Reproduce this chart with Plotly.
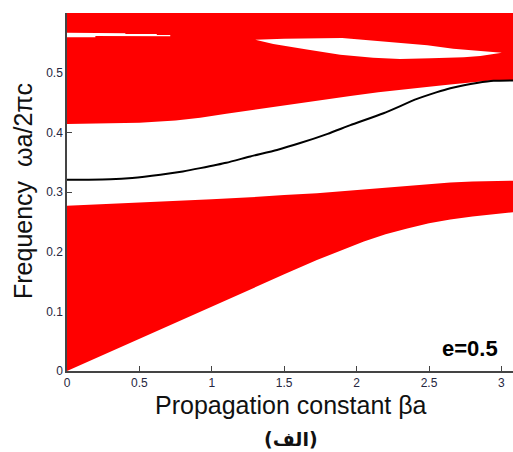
import plotly.graph_objects as go

# ---- data ----
# lower (red) band
beta_lb = [0, 0.5, 1.0, 1.267, 1.5, 1.726, 1.9, 2.05, 2.2, 2.35, 2.5, 2.647, 2.8, 2.95, 3.08]
lb_low = [0, 0.054, 0.108, 0.138, 0.162, 0.186, 0.203, 0.217, 0.229, 0.239, 0.2475, 0.254, 0.259, 0.263, 0.266]
lb_up = [0.277, 0.282, 0.288, 0.291, 0.295, 0.298, 0.302, 0.305, 0.308, 0.311, 0.313, 0.316, 0.3175, 0.3185, 0.319]

# upper (red) band lower edge
beta_ub = [0, 0.3, 0.5, 0.75, 0.92, 1.1, 1.266, 1.45, 1.61, 1.8, 1.957, 2.15, 2.30, 2.5, 2.647, 2.76, 2.86, 2.945, 3.08]
ub_low = [0.414, 0.4145, 0.416, 0.420, 0.4245, 0.431, 0.437, 0.443, 0.449, 0.4555, 0.461, 0.467, 0.4715, 0.4765, 0.480, 0.483, 0.486, 0.4875, 0.4878]
ub_top = 0.65

# thin white gap inside the upper band (left)
gapA_beta = [0, 0.196, 0.196, 0.403, 0.403, 0.62, 0.62, 0.713]
gapA_top = [0.567, 0.567, 0.566, 0.566, 0.5648, 0.5648, 0.563, 0.563]
gapA_bot = [0.5593, 0.5593, 0.5614, 0.5614, 0.5614, 0.5614, 0.561, 0.561]

# white lens inside the upper band (right)
lens_top_beta = [1.30, 1.5, 1.9, 2.095, 2.322, 2.488, 2.667, 2.854, 3.003]
lens_top = [0.555, 0.557, 0.558, 0.554, 0.550, 0.546, 0.540, 0.536, 0.5335]
lens_bot_beta = [1.30, 1.425, 1.657, 1.887, 2.115, 2.3, 2.51, 2.74, 2.854, 3.003]
lens_bot = [0.555, 0.548, 0.539, 0.530, 0.525, 0.523, 0.524, 0.526, 0.528, 0.5335]

# defect mode (black line)
beta_line = [0, 0.15, 0.3, 0.45, 0.645, 0.8, 0.92, 1.1, 1.266, 1.45, 1.61, 1.8, 1.957,
             2.186, 2.417, 2.55, 2.647, 2.75, 2.83, 2.946, 3.08]
freq_line = [0.3205, 0.3206, 0.3212, 0.3235, 0.329, 0.3345, 0.340, 0.349, 0.3596, 0.3705, 0.382, 0.3975, 0.412,
             0.432, 0.456, 0.467, 0.474, 0.4795, 0.4827, 0.4863, 0.487]

x_ticks = [0, 0.5, 1, 1.5, 2, 2.5, 3]
x_tick_text = ["0", "0.5", "1", "1.5", "2", "2.5", "3"]
y_ticks = [0, 0.1, 0.2, 0.3, 0.4, 0.5]
y_tick_text = ["0", "0.1", "0.2", "0.3", "0.4", "0.5"]

RED = "#ff0000"
fig = go.Figure()

# lower band polygon
fig.add_trace(go.Scatter(
    x=beta_lb + beta_lb[::-1], y=lb_low + lb_up[::-1],
    fill="toself", fillcolor=RED, mode="lines", line=dict(width=0, color=RED),
    hoverinfo="skip", showlegend=False))

# upper band polygon
fig.add_trace(go.Scatter(
    x=beta_ub + [beta_ub[-1], beta_ub[0]], y=ub_low + [ub_top, ub_top],
    fill="toself", fillcolor=RED, mode="lines", line=dict(width=0, color=RED),
    hoverinfo="skip", showlegend=False))

# white gaps
fig.add_trace(go.Scatter(
    x=gapA_beta + gapA_beta[::-1], y=gapA_top + gapA_bot[::-1],
    fill="toself", fillcolor="white", mode="lines", line=dict(width=0, color="white"),
    hoverinfo="skip", showlegend=False))
fig.add_trace(go.Scatter(
    x=lens_top_beta + lens_bot_beta[::-1], y=lens_top + lens_bot[::-1],
    fill="toself", fillcolor="white", mode="lines", line=dict(width=0, color="white"),
    hoverinfo="skip", showlegend=False))

# defect mode line
fig.add_trace(go.Scatter(
    x=beta_line, y=freq_line, mode="lines",
    line=dict(color="black", width=2, shape="spline", smoothing=0.6),
    hoverinfo="skip", showlegend=False))

TICKFONT = dict(family="Arial, Liberation Sans", size=12, color="#262640")
fig.update_xaxes(range=[0, 3.08], tickvals=x_ticks, ticktext=x_tick_text, ticks="inside",
                 ticklen=5, tickcolor="#444", showline=True, linecolor="#444", linewidth=1.5,
                 showgrid=False, zeroline=False, tickfont=TICKFONT, layer="below traces")
fig.update_yaxes(range=[0, 0.6], tickvals=y_ticks, ticktext=y_tick_text, ticks="inside",
                 ticklen=5, tickcolor="#444", showline=True, linecolor="#444", linewidth=1.5,
                 showgrid=False, zeroline=False, tickfont=TICKFONT, layer="below traces")

W, H = 513, 452
L, R, T, B = 67, 0, 13, 81
pw, ph = W - L - R, H - T - B

def px(xp):
    return (xp - L) / pw

def py(yp):
    return (H - B - yp) / ph

anns = [
    dict(text="Propagation constant βa", x=px(291), y=py(405), xref="paper", yref="paper",
         showarrow=False, xanchor="center", yanchor="middle",
         font=dict(family="Arial, Liberation Sans", size=25, color="#111")),
    dict(text="Frequency  ωa/2πc", x=px(23), y=py(191), xref="paper", yref="paper",
         showarrow=False, xanchor="center", yanchor="middle", textangle=-90,
         font=dict(family="Arial, Liberation Sans", size=25, color="#111")),
    dict(text="<b>(الف)</b>", x=px(291), y=py(439), xref="paper", yref="paper",
         showarrow=False, xanchor="center", yanchor="middle",
         font=dict(family="DejaVu Sans", size=19, color="#111")),
    dict(text="<b>e=0.5</b>", x=px(470), y=py(348), xref="paper", yref="paper",
         showarrow=False, xanchor="center", yanchor="middle",
         font=dict(family="Arial, Liberation Sans", size=22, color="black")),
]

fig.update_layout(width=W, height=H, margin=dict(l=L, r=R, t=T, b=B),
                  plot_bgcolor="white", paper_bgcolor="white", annotations=anns)

fig.write_html("out.html")
